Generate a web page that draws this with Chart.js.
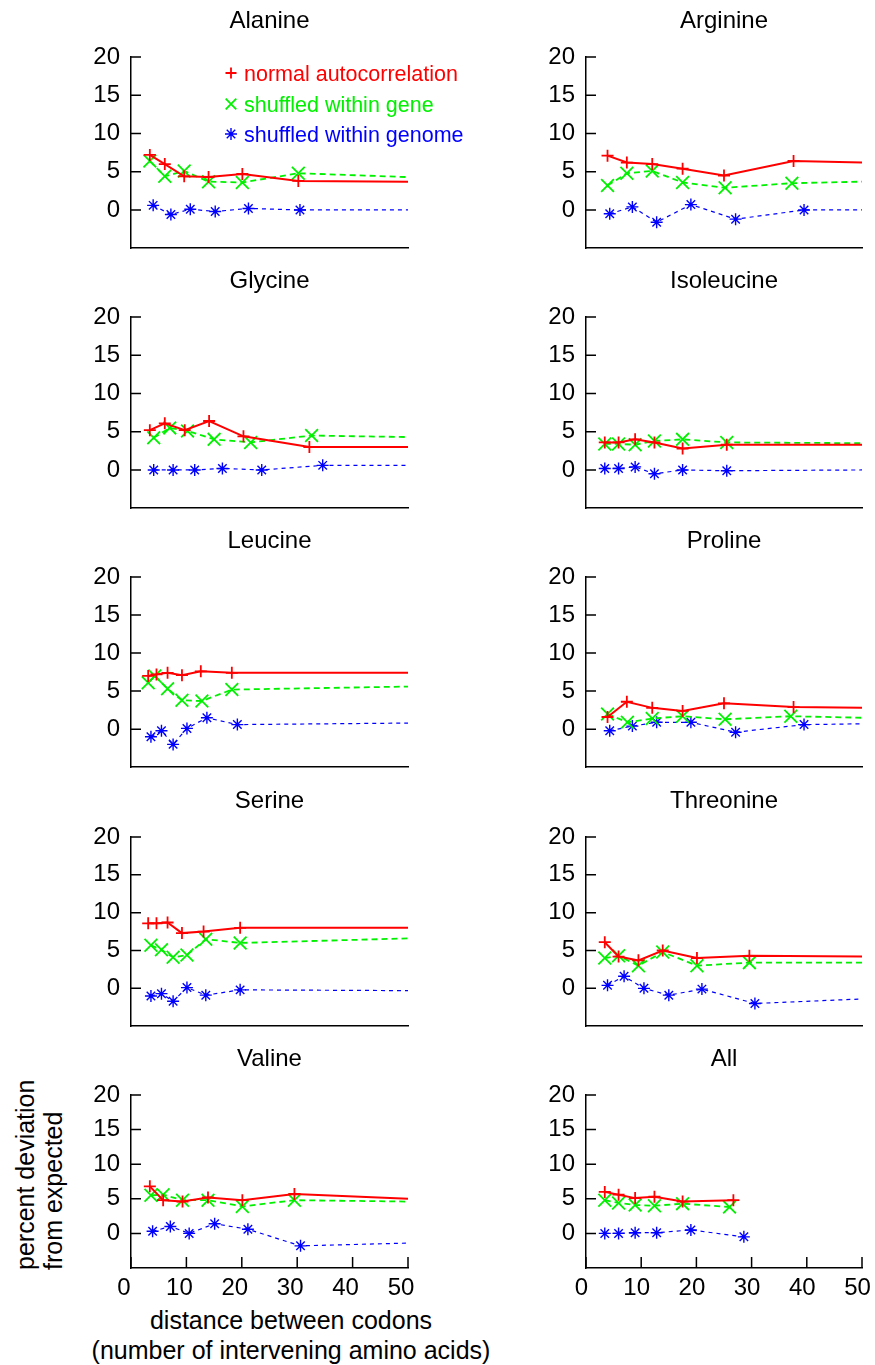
<!DOCTYPE html>
<html><head><meta charset="utf-8">
<script src="https://cdn.jsdelivr.net/npm/chart.js@4.4.0/dist/chart.umd.min.js"></script>
<style>
html,body{margin:0;padding:0;background:#fff;}
body{width:875px;height:1365px;position:relative;overflow:hidden;font-family:"Liberation Sans",Arial,sans-serif;}
canvas{position:absolute;}
.lbl{position:absolute;font-family:"Liberation Sans",Arial,sans-serif;color:#000;white-space:pre;}
</style></head><body>
<div class="lbl" id="ytitle" style="left:11px;top:1270px;font-size:25px;line-height:28px;transform-origin:0 0;transform:rotate(-90deg);">percent deviation
from expected</div>
<div class="lbl" id="xtitle" style="left:41px;top:1305px;width:500px;text-align:center;font-size:25px;line-height:30px;">distance between codons
(number of intervening amino acids)</div>
<script>
// ---- data ----
const xTicks = [0, 10, 20, 30, 40, 50];
const yTicks = [0, 5, 10, 15, 20];
const seriesNames = ['normal autocorrelation', 'shuffled within gene', 'shuffled within genome'];
const panelTitles = ['Alanine', 'Arginine', 'Glycine', 'Isoleucine', 'Leucine', 'Proline', 'Serine', 'Threonine', 'Valine', 'All'];

const alanineNormal = [[3.4,7.2],[6.1,6.0],[9.6,4.4],[14.0,4.3],[20.1,4.7],[30.2,3.8],[50,3.7]];
const alanineGene   = [[3.4,6.4],[6.1,4.4],[9.6,5.1],[14.0,3.7],[20.1,3.6],[30.2,4.8],[50,4.3]];
const alanineGenome = [[4.0,0.6],[7.2,-0.6],[10.7,0.1],[15.2,-0.2],[21.2,0.2],[30.5,0.0],[50,0.0]];

const arginineNormal = [[3.9,7.1],[7.4,6.2],[12.0,6.0],[17.5,5.4],[25.0,4.5],[37.6,6.4],[50,6.2]];
const arginineGene   = [[3.9,3.2],[7.4,4.8],[12.0,5.1],[17.5,3.6],[25.2,2.9],[37.3,3.5],[50,3.7]];
const arginineGenome = [[4.3,-0.5],[8.4,0.4],[12.8,-1.6],[19.0,0.7],[27.1,-1.2],[39.5,0.0],[50,0.0]];

const glycineNormal = [[3.4,5.2],[6.1,6.1],[9.7,5.2],[14.1,6.4],[20.3,4.4],[32.2,3.0],[50,3.0]];
const glycineGene   = [[4.1,4.2],[7.0,5.5],[10.2,5.1],[15.0,4.0],[21.6,3.6],[32.6,4.5],[50,4.3]];
const glycineGenome = [[4.1,0.0],[7.6,0.0],[11.5,0.0],[16.5,0.2],[23.6,0.0],[34.6,0.6],[50,0.6]];

const isoleucineNormal = [[3.4,3.6],[5.9,3.6],[8.9,4.0],[12.4,3.6],[17.5,2.8],[25.5,3.3],[50,3.3]];
const isoleucineGene   = [[3.4,3.4],[5.9,3.4],[8.9,3.3],[12.4,3.8],[17.5,4.0],[25.5,3.6],[50,3.5]];
const isoleucineGenome = [[3.4,0.2],[5.9,0.2],[8.9,0.4],[12.4,-0.5],[17.5,0.0],[25.5,-0.1],[50,0.0]];

const leucineNormal = [[3.1,7.0],[4.6,7.2],[6.6,7.4],[9.2,7.1],[12.6,7.6],[18.2,7.4],[50,7.4]];
const leucineGene   = [[3.1,6.1],[4.3,7.0],[6.6,5.3],[9.2,3.8],[12.8,3.7],[18.2,5.2],[50,5.6]];
const leucineGenome = [[3.6,-1.0],[5.5,-0.2],[7.6,-2.0],[10.1,0.1],[13.7,1.5],[19.2,0.6],[50,0.8]];

const prolineNormal = [[3.9,1.6],[7.4,3.6],[12.0,2.8],[17.5,2.4],[25.0,3.4],[37.6,2.9],[50,2.8]];
const prolineGene   = [[3.9,2.0],[7.5,0.9],[12.0,1.4],[17.5,1.7],[25.2,1.3],[37.1,1.7],[50,1.5]];
const prolineGenome = [[4.3,-0.2],[8.4,0.4],[12.8,0.9],[19.0,0.9],[27.1,-0.4],[39.5,0.6],[50,0.7]];

const serineNormal = [[3.1,8.6],[4.6,8.6],[6.6,8.7],[9.2,7.3],[13.1,7.5],[19.7,8.0],[50,8.0]];
const serineGene   = [[3.6,5.7],[5.5,5.1],[7.6,4.1],[10.1,4.4],[13.5,6.5],[19.7,6.0],[50,6.6]];
const serineGenome = [[3.6,-1.0],[5.5,-0.7],[7.6,-1.7],[10.1,0.1],[13.5,-0.9],[19.7,-0.2],[50,-0.3]];

const threonineNormal = [[3.4,6.1],[5.9,4.2],[9.5,3.7],[13.9,5.0],[20.1,4.0],[29.6,4.3],[50,4.2]];
const threonineGene   = [[3.4,4.0],[5.9,4.3],[9.5,3.0],[13.9,4.8],[20.1,3.0],[29.6,3.4],[50,3.4]];
const threonineGenome = [[3.9,0.4],[6.9,1.6],[10.5,0.0],[15.0,-0.9],[21.0,-0.1],[30.6,-2.0],[50,-1.4]];

const valineNormal = [[3.4,6.8],[5.8,4.8],[9.3,4.6],[13.9,5.2],[20.1,4.8],[29.5,5.7],[50,5.0]];
const valineGene   = [[3.6,5.5],[5.8,5.6],[9.3,4.8],[13.9,4.8],[20.1,3.9],[29.5,4.8],[50,4.6]];
const valineGenome = [[3.9,0.3],[7.1,1.0],[10.5,0.0],[15.1,1.4],[21.1,0.6],[30.6,-1.8],[50,-1.4]];

const allNormal = [[3.4,6.0],[5.9,5.6],[8.9,5.1],[12.4,5.3],[17.5,4.6],[26.7,4.8]];
const allGene   = [[3.4,4.8],[5.9,4.4],[8.9,4.1],[12.4,4.0],[17.5,4.3],[26.0,3.8]];
const allGenome = [[3.4,0.0],[5.9,0.0],[8.9,0.1],[12.8,0.1],[19.0,0.5],[28.6,-0.5]];

const panelData = [
  [alanineNormal, alanineGene, alanineGenome],
  [arginineNormal, arginineGene, arginineGenome],
  [glycineNormal, glycineGene, glycineGenome],
  [isoleucineNormal, isoleucineGene, isoleucineGenome],
  [leucineNormal, leucineGene, leucineGenome],
  [prolineNormal, prolineGene, prolineGenome],
  [serineNormal, serineGene, serineGenome],
  [threonineNormal, threonineGene, threonineGenome],
  [valineNormal, valineGene, valineGenome],
  [allNormal, allGene, allGenome]
];

// ---- styling / layout ----
const FONT = '"Liberation Sans", Arial, Helvetica, sans-serif';
const X_MIN = 0, X_MAX = 50, Y_MIN = -5, Y_MAX = 20;
const styles = [
  {color:'#ff0000', pointStyle:'cross',    radius:6,   width:2,   pw:1.8, dash:[],    lr:5.5},
  {color:'#00f000', pointStyle:'crossRot', radius:9,   width:1.8, pw:1.8, dash:[6,4], lr:7.5},
  {color:'#0000ff', pointStyle:'star',     radius:6,   width:1.2, pw:1.4, dash:[4,4], lr:6}
];
const rowTopPx = [57, 317, 577, 837, 1095];
const rowBottomPx = [249, 509, 768, 1027, 1268];

function drawMarker(ctx, style, r, x, y) {
  ctx.beginPath();
  const d = r * Math.SQRT1_2;
  if (style === 'cross' || style === 'star') {
    ctx.moveTo(x - r, y); ctx.lineTo(x + r, y);
    ctx.moveTo(x, y - r); ctx.lineTo(x, y + r);
  }
  if (style === 'crossRot' || style === 'star') {
    ctx.moveTo(x - d, y - d); ctx.lineTo(x + d, y + d);
    ctx.moveTo(x - d, y + d); ctx.lineTo(x + d, y - d);
  }
  ctx.stroke();
}

const innerTicks = {
  id: 'innerTicks',
  afterDraw(chart, args, opts) {
    const {ctx, chartArea: a, scales: {x, y}} = chart;
    ctx.save();
    ctx.strokeStyle = '#000'; ctx.lineWidth = 1.5;
    ctx.beginPath();
    y.ticks.forEach(t => { const py = y.getPixelForValue(t.value); ctx.moveTo(a.left, py); ctx.lineTo(a.left + 10, py); });
    if (opts.xticks) x.ticks.forEach(t => { const px = x.getPixelForValue(t.value); ctx.moveTo(px, a.bottom); ctx.lineTo(px, a.bottom - 11); });
    ctx.stroke();
    ctx.restore();
  }
};

const panelTitle = {
  id: 'panelTitle',
  afterDraw(chart, args, opts) {
    const {ctx, chartArea: a} = chart;
    ctx.save();
    ctx.font = '24px ' + FONT; ctx.fillStyle = '#000';
    ctx.textAlign = 'center'; ctx.textBaseline = 'alphabetic';
    ctx.fillText(opts.text, (a.left + a.right) / 2, a.top - 29);
    ctx.restore();
  }
};

const innerLegend = {
  id: 'innerLegend',
  afterDraw(chart, args, opts) {
    if (!opts.show) return;
    const {ctx, chartArea: a} = chart;
    ctx.save();
    ctx.font = '21.5px ' + FONT; ctx.textAlign = 'left'; ctx.textBaseline = 'alphabetic';
    const rows = [16, 47, 77];
    chart.data.datasets.forEach((ds, k) => {
      const s = styles[k];
      const my = a.top + rows[k];
      ctx.strokeStyle = s.color; ctx.lineWidth = s.pw;
      drawMarker(ctx, s.pointStyle, s.lr, a.left + 100, my);
      ctx.fillStyle = s.color;
      ctx.fillText(ds.label, a.left + 113, my + 7.5);
    });
    ctx.restore();
  }
};

panelData.forEach((series, i) => {
  const col = i % 2, row = Math.floor(i / 2), bottom = row === 4;
  const xH = bottom ? 56 : 10;
  const left = col ? 440 : 0;
  const width = col ? 435 : 480;
  const rightPad = col ? 13 : 72;
  const top = rowTopPx[row] - 57;
  const height = rowBottomPx[row] - top + xH;
  const cv = document.createElement('canvas');
  cv.width = width; cv.height = height;
  cv.style.left = left + 'px'; cv.style.top = top + 'px';
  cv.style.width = width + 'px'; cv.style.height = height + 'px';
  document.body.appendChild(cv);

  new Chart(cv, {
    type: 'scatter',
    data: {
      datasets: series.map((arr, k) => ({
        label: seriesNames[k],
        data: arr.map(([x, y]) => ({x, y})),
        showLine: true, tension: 0,
        borderColor: styles[k].color, borderWidth: styles[k].width, borderDash: styles[k].dash,
        pointStyle: styles[k].pointStyle,
        pointBorderColor: styles[k].color, pointBackgroundColor: 'rgba(0,0,0,0)',
        pointBorderWidth: styles[k].pw,
        pointRadius: c => (c.raw && c.raw.x >= X_MAX) ? 0 : styles[k].radius,
        pointHoverRadius: 0,
        clip: 10
      }))
    },
    options: {
      responsive: false, animation: false, devicePixelRatio: 1,
      events: [],
      layout: {padding: {top: 57, left: 0, right: rightPad, bottom: 0}},
      plugins: {
        legend: {display: false}, tooltip: {enabled: false},
        innerTicks: {xticks: bottom},
        panelTitle: {text: panelTitles[i]},
        innerLegend: {show: i === 0}
      },
      scales: {
        x: {
          type: 'linear', min: X_MIN, max: X_MAX, position: 'bottom',
          grid: {display: false, drawTicks: false},
          border: {display: true, color: '#000', width: 1.5},
          ticks: {display: bottom, font: {family: FONT, size: 24}, color: '#000', padding: 6,
                  labelOffset: col ? -4.5 : -7, maxRotation: 0, autoSkip: false},
          afterBuildTicks: s => { s.ticks = xTicks.map(v => ({value: v})); },
          afterFit: s => { s.height = xH; s.paddingLeft = 0; s.paddingRight = 0; }
        },
        y: {
          type: 'linear', min: Y_MIN, max: Y_MAX,
          grid: {display: false, drawTicks: false},
          border: {display: true, color: '#000', width: 1.5},
          ticks: {font: {family: FONT, size: 24}, color: '#000', padding: 11, autoSkip: false},
          afterBuildTicks: s => { s.ticks = yTicks.map(v => ({value: v})); },
          afterFit: s => { s.width = col ? 146 : 131; s.paddingTop = 0; s.paddingBottom = 0; }
        }
      }
    },
    plugins: [innerTicks, panelTitle, innerLegend]
  });
});
</script>
</body></html>
